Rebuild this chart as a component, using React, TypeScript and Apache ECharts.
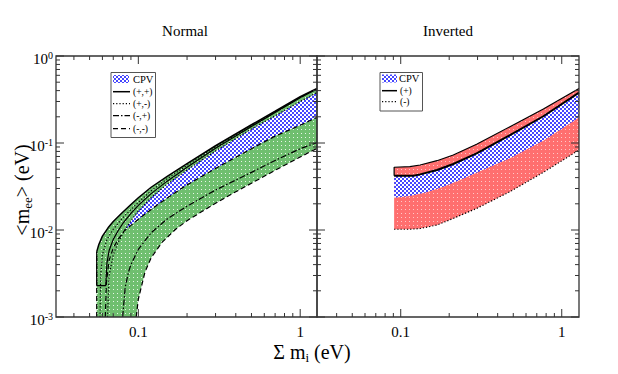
import React, { useEffect, useRef } from 'react';
import * as echarts from 'echarts';

const FONT = 'Liberation Serif, DejaVu Serif, serif';

// ---- axis ranges & ticks ----
const NORMAL_X_RANGE = [0.031, 1.27];
const INVERTED_X_RANGE = [0.0302, 1.28];
const Y_RANGE = [0.001, 1];
const X_MAJOR_TICKS = [0.1, 1];
const X_MINOR_TICKS = [0.04, 0.05, 0.06, 0.07, 0.08, 0.09, 0.2, 0.3, 0.4, 0.5, 0.6, 0.7, 0.8, 0.9];
const Y_MAJOR_TICKS = [0.001, 0.01, 0.1, 1];
const Y_MINOR_TICKS = [
  0.002, 0.003, 0.004, 0.005, 0.006, 0.007, 0.008, 0.009,
  0.02, 0.03, 0.04, 0.05, 0.06, 0.07, 0.08, 0.09,
  0.2, 0.3, 0.4, 0.5, 0.6, 0.7, 0.8, 0.9,
];

// ---- Normal hierarchy curves [sum m_i, <m_ee>] ----
const normalUpper = [[0.0553, 0.0056], [0.057, 0.0068], [0.06, 0.0085], [0.065, 0.0106], [0.07, 0.0125], [0.08, 0.016], [0.09, 0.0196], [0.1, 0.0235], [0.12, 0.031], [0.15, 0.041], [0.2, 0.058], [0.3, 0.093], [0.5, 0.162], [0.7, 0.232], [1.0, 0.34], [1.27, 0.425]];
const normalInnerPP = [[0.0553, 0.0056], [0.0553, 0.0023], [0.0629, 0.0023], [0.064, 0.0042], [0.066, 0.0058], [0.07, 0.0078], [0.075, 0.0098], [0.08, 0.0118], [0.09, 0.0155], [0.1, 0.0192], [0.12, 0.0262], [0.15, 0.0362], [0.2, 0.0525], [0.3, 0.087], [0.5, 0.155], [0.7, 0.225], [1.0, 0.332], [1.27, 0.418]];
const normalPM1 = [[0.058, 0.001], [0.0585, 0.003], [0.06, 0.0052], [0.064, 0.0078], [0.07, 0.0102], [0.08, 0.0138], [0.09, 0.0172], [0.1, 0.0208], [0.12, 0.0282], [0.15, 0.0385], [0.2, 0.0555], [0.3, 0.09], [0.5, 0.158], [1.0, 0.335], [1.27, 0.42]];
const normalPM2 = [[0.0645, 0.001], [0.066, 0.003], [0.07, 0.0052], [0.075, 0.0072], [0.082, 0.0098], [0.09, 0.0128], [0.1, 0.0165], [0.12, 0.0235], [0.15, 0.0335], [0.2, 0.049], [0.3, 0.081], [0.5, 0.145], [0.7, 0.205], [1.0, 0.3], [1.27, 0.38]];
const normalMM = [[0.0625, 0.001], [0.0635, 0.0025], [0.066, 0.0045], [0.07, 0.0062], [0.075, 0.0078], [0.082, 0.0098], [0.09, 0.0113], [0.1, 0.0133], [0.12, 0.0172], [0.15, 0.0232], [0.2, 0.033], [0.3, 0.051], [0.5, 0.086], [0.7, 0.12], [1.0, 0.16], [1.27, 0.197]];
const normalMP = [[0.08, 0.001], [0.083, 0.0022], [0.087, 0.0033], [0.09, 0.004], [0.1, 0.006], [0.12, 0.0093], [0.15, 0.0133], [0.2, 0.0188], [0.3, 0.0288], [0.5, 0.046], [0.7, 0.063], [1.0, 0.086], [1.27, 0.101]];
const normalLower = [[0.097, 0.001], [0.1, 0.0016], [0.11, 0.0033], [0.12, 0.0048], [0.14, 0.0072], [0.17, 0.0102], [0.2, 0.0128], [0.25, 0.0165], [0.3, 0.0203], [0.4, 0.0275], [0.5, 0.0345], [0.7, 0.0485], [1.0, 0.069], [1.27, 0.087]];
const NORMAL_CPV_START = 0.082;

// ---- Inverted hierarchy curves ----
const invertedUpper = [[0.091, 0.0526], [0.114, 0.0535], [0.132, 0.0559], [0.168, 0.0626], [0.212, 0.0728], [0.296, 0.0966], [0.477, 0.154], [0.769, 0.246], [1.28, 0.422]];
const invertedPlus = [[0.091, 0.0421], [0.12, 0.0421], [0.132, 0.0436], [0.168, 0.049], [0.212, 0.0574], [0.296, 0.076], [0.477, 0.123], [0.769, 0.203], [1.28, 0.38]];
const invertedCpvBottom = [[0.091, 0.0235], [0.114, 0.0246], [0.145, 0.0271], [0.184, 0.0315], [0.234, 0.0376], [0.296, 0.0456], [0.477, 0.0667], [0.769, 0.106], [1.28, 0.196]];
const invertedMinus = [[0.091, 0.0102], [0.114, 0.0102], [0.132, 0.0104], [0.168, 0.0114], [0.212, 0.0136], [0.296, 0.0177], [0.477, 0.0276], [0.769, 0.046], [1.28, 0.083]];

const DOT = [1.2, 2];
const DASH = [5, 3];
const DASHDOT = [6, 2, 1.5, 2];

function makePattern(base: string, mark: string, kind: 'dots' | 'check') {
  const c = document.createElement('canvas');
  c.width = 4; c.height = 4;
  const g = c.getContext('2d')!;
  g.fillStyle = base; g.fillRect(0, 0, 4, 4);
  g.fillStyle = mark;
  if (kind === 'dots') {
    g.fillRect(1, 1, 1, 1);
  } else {
    g.fillRect(0, 0, 2, 2); g.fillRect(2, 2, 2, 2);
  }
  return { image: c.toDataURL(), repeat: 'repeat', imageWidth: 4, imageHeight: 4 };
}

let measureCtx: CanvasRenderingContext2D | null = null;
function textWidth(text: string, size: number) {
  if (!measureCtx) measureCtx = document.createElement('canvas').getContext('2d');
  measureCtx!.font = size + 'px ' + FONT;
  return measureCtx!.measureText(text).width;
}

// pieces: [text, isSub]; returns a group of plain texts centred at (cx, cy)
function composedText(pieces: [string, boolean][], cx: number, cy: number, rotation: number, size: number, subSize: number) {
  const widths = pieces.map(([t, sub]) => textWidth(t, sub ? subSize : size));
  const total = widths.reduce((a, b) => a + b, 0);
  let x = -total / 2;
  const children = pieces.map(([t, sub], i) => {
    const el = {
      type: 'text', x, y: sub ? size * 0.28 : 0, silent: true,
      style: { text: t, fontFamily: FONT, fontSize: sub ? subSize : size, fill: '#000', align: 'left', verticalAlign: 'middle' },
    };
    x += widths[i];
    return el;
  });
  return { type: 'group', x: cx, y: cy, rotation, silent: true, children };
}

function polySeries(pts: number[][], fill: any, idx: number, z: number) {
  return {
    type: 'custom', xAxisIndex: idx, yAxisIndex: idx, silent: true, z, clip: true,
    data: pts,
    renderItem: (params: any, api: any) => {
      if (params.dataIndex !== 0) return null;
      const points = pts.map((p) => api.coord(p));
      return { type: 'polygon', shape: { points }, style: { fill, stroke: 'none' } };
    },
  };
}

function lineSeries(data: number[][], dash: any, width: number, idx: number) {
  return {
    type: 'line', xAxisIndex: idx, yAxisIndex: idx, data, showSymbol: false, symbol: 'none',
    silent: true, z: 5, clip: true,
    lineStyle: { color: '#000', width, type: dash },
    emphasis: { disabled: true },
  };
}

function tickSeries(idx: number, xRange: number[]) {
  const data: number[][] = [];
  X_MAJOR_TICKS.forEach((v) => data.push([v, 0.5, 1, 1]));
  X_MINOR_TICKS.filter((v) => v > xRange[0] && v < xRange[1]).forEach((v) => data.push([v, 0.5, 1, 0]));
  Y_MAJOR_TICKS.forEach((v) => data.push([0.5, v, 2, 1]));
  Y_MINOR_TICKS.forEach((v) => data.push([0.5, v, 2, 0]));
  return {
    type: 'custom', xAxisIndex: idx, yAxisIndex: idx, silent: true, z: 10, clip: false,
    data,
    renderItem: (params: any, api: any) => {
      const cs = params.coordSys;
      const kind = api.value(2);
      const major = api.value(3) === 1;
      const len = major ? 8 : 4;
      const p = api.coord([api.value(0), api.value(1)]);
      const st = { stroke: '#333', lineWidth: 1 };
      const children: any[] = [];
      if (kind === 1) {
        const x = p[0];
        children.push({ type: 'line', shape: { x1: x, y1: cs.y + cs.height, x2: x, y2: cs.y + cs.height - len }, style: st });
        children.push({ type: 'line', shape: { x1: x, y1: cs.y, x2: x, y2: cs.y + len }, style: st });
      } else {
        const y = p[1];
        children.push({ type: 'line', shape: { x1: cs.x, y1: y, x2: cs.x + len, y2: y }, style: st });
        children.push({ type: 'line', shape: { x1: cs.x + cs.width, y1: y, x2: cs.x + cs.width - len, y2: y }, style: st });
      }
      if (params.dataIndex === 0) {
        children.push({ type: 'rect', shape: { x: cs.x, y: cs.y, width: cs.width, height: cs.height }, style: { fill: 'none', stroke: '#333', lineWidth: 1.3 } });
      }
      return { type: 'group', children };
    },
  };
}

function xAxisOf(idx: number, range: number[]) {
  return {
    type: 'log', gridIndex: idx, min: range[0], max: range[1], logBase: 10,
    axisLine: { show: false }, axisTick: { show: false }, splitLine: { show: false },
    axisLabel: {
      show: true, showMinLabel: false, showMaxLabel: false, margin: 7,
      fontFamily: FONT, fontSize: 15, color: '#000',
      formatter: (v: number) => {
        const e = Math.round(Math.log10(v));
        return e === 0 ? '1' : e === -1 ? '0.1' : String(Math.pow(10, e));
      },
    },
  };
}

function yAxisOf(idx: number, labels: boolean) {
  return {
    type: 'log', gridIndex: idx, min: Y_RANGE[0], max: Y_RANGE[1], logBase: 10,
    axisLine: { show: false }, axisTick: { show: false }, splitLine: { show: false },
    axisLabel: {
      show: labels, margin: 3, fontFamily: FONT, color: '#000',
      formatter: (v: number) => '{b|10}{s|' + Math.round(Math.log10(v)) + '}',
      rich: {
        b: { fontFamily: FONT, fontSize: 15, lineHeight: 16, padding: [6, 0, 0, 0], color: '#000' },
        s: { fontFamily: FONT, fontSize: 10, lineHeight: 10, padding: [2, 0, 0, 0], verticalAlign: 'top', color: '#000' },
      },
    },
  };
}

export default function App() {
  const ref = useRef<HTMLDivElement>(null);
  useEffect(() => {
    if (!ref.current) return;
    const chart = echarts.init(ref.current, null, { renderer: 'svg' });
    const green = makePattern('#6fbf6f', '#e8f6e8', 'dots');
    const red = makePattern('#ff6f6f', '#ffc8c8', 'dots');
    const blue = makePattern('#ffffff', '#4646ff', 'check');

    const nCpvTop = normalPM2.filter((p) => p[0] >= NORMAL_CPV_START);
    const nCpvBottom = normalMM.filter((p) => p[0] >= NORMAL_CPV_START);
    const greenPoly = [...normalUpper, ...normalLower.slice().reverse(), [normalUpper[0][0], Y_RANGE[0]]];
    const nBluePoly = [...nCpvTop, ...nCpvBottom.slice().reverse()];
    const redPoly = [...invertedUpper, ...invertedMinus.slice().reverse()];
    const iBluePoly = [...invertedPlus, ...invertedCpvBottom.slice().reverse()];
    const normalEdge = [[normalUpper[0][0], Y_RANGE[0]], normalUpper[0]];
    const invertedEdge = [invertedPlus[0], ...invertedUpper];

    const legendText = (text: string, x: number, y: number, size: number) => ({
      type: 'text', x, y, silent: true,
      style: { text, fontFamily: FONT, fontSize: size, fill: '#000', verticalAlign: 'middle', align: 'left' },
    });
    const legendLine = (x1: number, x2: number, y: number, dash: any, w: number) => ({
      type: 'line', silent: true, shape: { x1, y1: y, x2, y2: y },
      style: { stroke: '#000', lineWidth: w, lineDash: dash },
    });

    chart.setOption({
      animation: false,
      backgroundColor: '#fff',
      textStyle: { fontFamily: FONT },
      grid: [
        { left: 56, top: 56, width: 261, height: 261, show: false, outerBoundsMode: 'none', containLabel: false },
        { left: 317, top: 56, width: 262, height: 261, show: false, outerBoundsMode: 'none', containLabel: false },
      ],
      xAxis: [xAxisOf(0, NORMAL_X_RANGE), xAxisOf(1, INVERTED_X_RANGE)],
      yAxis: [yAxisOf(0, true), yAxisOf(1, false)],
      series: [
        polySeries(greenPoly, green, 0, 1),
        polySeries(nBluePoly, blue, 0, 2),
        lineSeries(normalUpper, 'solid', 1.5, 0),
        lineSeries(normalInnerPP, 'solid', 1.2, 0),
        lineSeries(normalPM1, DOT, 1.2, 0),
        lineSeries(normalPM2, DOT, 1.2, 0),
        lineSeries(normalMM, DASH, 1.2, 0),
        lineSeries(normalMP, DASHDOT, 1.2, 0),
        lineSeries(normalLower, DASH, 1.2, 0),
        lineSeries(normalEdge, DASH, 1.2, 0),
        tickSeries(0, NORMAL_X_RANGE),
        polySeries(redPoly, red, 1, 1),
        polySeries(iBluePoly, blue, 1, 2),
        lineSeries(invertedEdge, 'solid', 1.2, 1),
        lineSeries(invertedPlus, 'solid', 2, 1),
        lineSeries(invertedMinus, DOT, 1.2, 1),
        tickSeries(1, INVERTED_X_RANGE),
      ],
      graphic: [
        { type: 'text', x: 185, y: 31, silent: true, style: { text: 'Normal', fontFamily: FONT, fontSize: 15, fill: '#000', align: 'center', verticalAlign: 'middle' } },
        { type: 'text', x: 448, y: 31, silent: true, style: { text: 'Inverted', fontFamily: FONT, fontSize: 15, fill: '#000', align: 'center', verticalAlign: 'middle' } },
        composedText([['Σ m', false], ['i', true], [' (eV)', false]], 312, 352, 0, 20, 13),
        composedText([['<m', false], ['ee', true], ['> (eV)', false]], 22, 190, Math.PI / 2, 20, 13),
        // left legend
        { type: 'rect', silent: true, shape: { x: 111, y: 72.5, width: 44.5, height: 65 }, style: { fill: '#fff', stroke: '#555', lineWidth: 1 } },
        { type: 'rect', silent: true, shape: { x: 113, y: 75, width: 16, height: 8 }, style: { fill: blue } },
        legendText('CPV', 133, 79, 10.5),
        legendLine(113, 130, 91.7, null, 1.5), legendText('(+,+)', 133, 92, 9.5),
        legendLine(113, 130, 103.7, DOT, 1.2), legendText('(+,-)', 133, 104, 9.5),
        legendLine(113, 130, 115.7, DASHDOT, 1.2), legendText('(-,+)', 133, 116, 9.5),
        legendLine(113, 130, 128.7, DASH, 1.2), legendText('(-,-)', 133, 129, 9.5),
        // right legend
        { type: 'rect', silent: true, shape: { x: 380, y: 72.5, width: 42.5, height: 38.5 }, style: { fill: '#fff', stroke: '#555', lineWidth: 1 } },
        { type: 'rect', silent: true, shape: { x: 382, y: 74.5, width: 15, height: 8 }, style: { fill: blue } },
        legendText('CPV', 399, 78.3, 10.5),
        legendLine(382, 397, 90.7, null, 1.5), legendText('(+)', 400, 91, 9.5),
        legendLine(382, 397, 101.7, DOT, 1.2), legendText('(-)', 400, 102, 9.5),
      ],
    });
    return () => chart.dispose();
  }, []);
  return <div ref={ref} style={{ position: 'fixed', left: 0, top: 0, width: 618, height: 374 }} />;
}
